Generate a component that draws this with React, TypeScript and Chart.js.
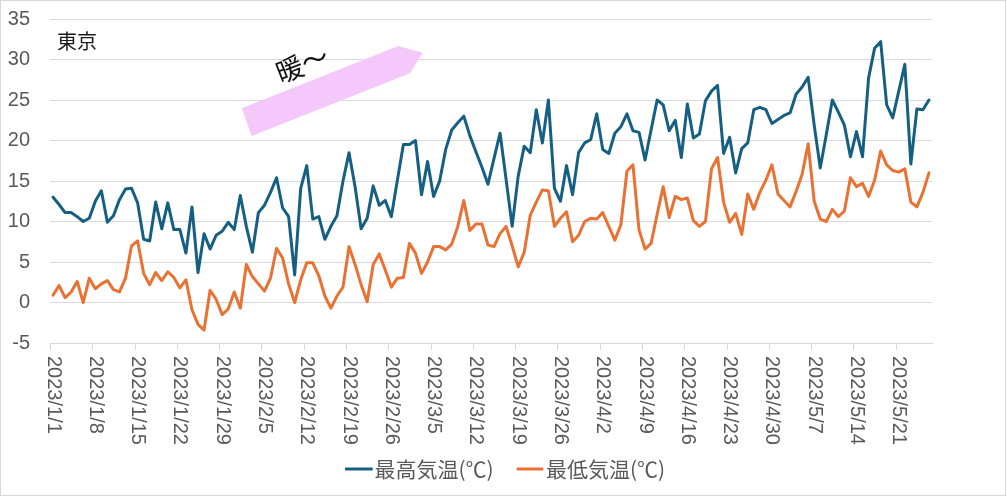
import React, { useEffect, useRef } from "react";
import { Chart, registerables } from "chart.js";

Chart.register(...registerables);

// Days per month shown (2023/1/1 - 2023/5/26)
const monthDays = [31, 28, 31, 30, 26];
const categories: string[] = [];
monthDays.forEach((n, m) => {
  for (let d = 1; d <= n; d++) categories.push(`2023/${m + 1}/${d}`);
});
const TICK_EVERY = 7;
const tickLabels = categories.filter((_, i) => i % TICK_EVERY === 0);

const yTicks = [-5, 0, 5, 10, 15, 20, 25, 30, 35];

const seriesNames = ["最高気温(℃)", "最低気温(℃)"];
const seriesColors = ["#156082", "#E97132"];

const maxTemp = [
  13.0, 12.1, 11.1, 11.1, 10.6, 10.0, 10.4,
  12.5, 13.8, 9.9, 10.7, 12.7, 14.0, 14.1,
  12.3, 7.8, 7.6, 12.4, 9.1, 12.3, 9.0,
  9.0, 6.1, 11.8, 3.7, 8.5, 6.6, 8.3,
  8.8, 9.9, 9.0, 13.2, 9.4, 6.2, 11.1,
  12.0, 13.6, 15.4, 11.7, 10.6, 3.4, 14.1,
  16.9, 10.3, 10.6, 7.8, 9.4, 10.7, 15.0,
  18.5, 14.3, 9.1, 10.4, 14.4, 12.0, 12.6,
  10.6, 15.1, 19.5, 19.5, 20.0, 13.3, 17.4,
  13.1, 15.0, 18.9, 21.3, 22.2, 23.0, 20.6,
  18.6, 16.7, 14.6, 17.8, 20.9, 15.2, 9.4,
  15.6, 19.3, 18.5, 23.8, 19.7, 25.0, 14.1,
  12.5, 16.9, 13.3, 18.5, 19.7, 20.1, 23.3,
  18.9, 18.4, 20.9, 21.7, 23.3, 21.2, 21.0,
  17.6, 21.3, 25.0, 24.4, 21.2, 22.5, 17.9,
  24.5, 20.3, 20.8, 24.9, 26.1, 26.8, 18.4,
  20.4, 16.0, 19.0, 19.7, 23.8, 24.1, 23.8,
  22.1, 22.6, 23.1, 23.4, 25.7, 26.6, 27.8,
  21.9, 16.6, 20.7, 25.0, 23.5, 21.9, 18.0,
  21.1, 18.0, 27.7, 31.4, 32.2, 24.4, 22.8,
  26.1, 29.4, 17.1, 23.9, 23.8, 25.0,
];

const minTemp = [
  0.9, 2.1, 0.6, 1.3, 2.6, 0.0, 3.0,
  1.7, 2.3, 2.7, 1.6, 1.3, 3.0, 7.0,
  7.6, 3.6, 2.2, 3.7, 2.7, 3.8, 3.1,
  1.8, 2.8, -0.9, -2.7, -3.4, 1.5, 0.4,
  -1.5, -0.8, 1.3, -0.7, 4.7, 3.2, 2.3,
  1.4, 3.0, 6.7, 5.5, 2.3, 0.0, 2.8,
  4.9, 4.9, 3.3, 0.8, -0.7, 0.8, 1.9,
  6.9, 4.7, 2.2, 0.1, 4.7, 6.0, 4.0,
  1.9, 3.0, 3.1, 7.3, 6.1, 3.6, 5.0,
  6.9, 6.9, 6.5, 7.2, 9.4, 12.6, 8.9,
  9.7, 9.7, 7.1, 6.9, 8.5, 9.4, 7.0,
  4.4, 6.2, 10.8, 12.4, 13.9, 13.8, 9.4,
  10.4, 11.2, 7.5, 8.3, 10.0, 10.4, 10.3,
  11.1, 9.4, 7.7, 9.6, 16.2, 17.0, 9.0,
  6.6, 7.3, 10.9, 14.3, 10.5, 13.1, 12.7,
  12.9, 10.1, 9.4, 10.0, 16.5, 17.9, 12.4,
  9.9, 11.0, 8.4, 13.4, 11.5, 13.6, 15.1,
  17.0, 13.4, 12.6, 11.8, 13.7, 15.8, 19.6,
  12.5, 10.3, 10.0, 11.5, 10.6, 11.3, 15.4,
  14.3, 14.7, 13.1, 15.1, 18.7, 17.0, 16.3,
  16.1, 16.5, 12.4, 11.8, 13.6, 16.0,
];

const cityLabel = "東京";
const noteText = "暖～";

const W = 1007;
const H = 497;
const GRID = "#d9d9d9";
const TEXT = "#595959";
const LATIN = "'Liberation Sans', Arial, sans-serif";
const CJK = "'Noto Sans CJK JP', 'Noto Sans', sans-serif";

const overlayPlugin = {
  id: "overlay",
  beforeDatasetsDraw(chart: any) {
    const ctx = chart.ctx as CanvasRenderingContext2D;
    ctx.save();
    ctx.fillStyle = "#F5C8FC";
    ctx.beginPath();
    ctx.moveTo(241.7, 108.3);
    ctx.lineTo(398.3, 46);
    ctx.lineTo(422.7, 52.7);
    ctx.lineTo(410, 73.3);
    ctx.lineTo(251.7, 136);
    ctx.closePath();
    ctx.fill();
    ctx.restore();
  },
  afterDraw(chart: any) {
    const ctx = chart.ctx as CanvasRenderingContext2D;
    const xs = chart.scales.x;
    const bottom = chart.chartArea.bottom;
    const half = (xs.getPixelForValue(1) - xs.getPixelForValue(0)) / 2;
    ctx.save();
    // outer frame
    ctx.strokeStyle = GRID;
    ctx.lineWidth = 1;
    ctx.strokeRect(0.5, 0.5, W - 2, H - 2);
    // x tick marks and rotated labels
    categories.forEach((lab, i) => {
      if (i % TICK_EVERY !== 0) return;
      const xc = xs.getPixelForValue(i);
      const xt = Math.round(xc - half) + 0.5;
      ctx.strokeStyle = GRID;
      ctx.beginPath();
      ctx.moveTo(xt, bottom);
      ctx.lineTo(xt, bottom + 7);
      ctx.stroke();
      ctx.save();
      ctx.translate(xc, bottom + 13);
      ctx.rotate(Math.PI / 2);
      ctx.textAlign = "left";
      ctx.textBaseline = "middle";
      ctx.fillStyle = TEXT;
      ctx.font = `20px ${LATIN}`;
      ctx.fillText(tickLabels[i / TICK_EVERY], 0, 0);
      ctx.restore();
    });
    // city label
    ctx.fillStyle = "#1a1a1a";
    ctx.font = `20px ${CJK}`;
    ctx.textAlign = "left";
    ctx.textBaseline = "middle";
    ctx.fillText(cityLabel, 57, 41);
    // annotation text
    ctx.save();
    ctx.translate(302, 64);
    ctx.rotate((-21.5 * Math.PI) / 180);
    ctx.textAlign = "center";
    ctx.textBaseline = "middle";
    ctx.fillStyle = "#111";
    ctx.font = `27px ${CJK}`;
    ctx.fillText(noteText, 0, 0);
    ctx.restore();
    // legend
    const legendY = 469;
    const items = [
      { x0: 345, x1: 372.7, tx: 374.5 },
      { x0: 516.7, x1: 543.3, tx: 546 },
    ];
    items.forEach((it, k) => {
      ctx.strokeStyle = seriesColors[k];
      ctx.lineWidth = 3;
      ctx.beginPath();
      ctx.moveTo(it.x0, legendY);
      ctx.lineTo(it.x1, legendY);
      ctx.stroke();
      ctx.fillStyle = TEXT;
      ctx.font = `21px ${CJK}`;
      ctx.textAlign = "left";
      ctx.textBaseline = "middle";
      ctx.fillText(seriesNames[k], it.tx, legendY);
    });
    ctx.restore();
  },
};

export default function App() {
  const ref = useRef<HTMLCanvasElement | null>(null);
  useEffect(() => {
    if (!ref.current) return;
    const chart = new Chart(ref.current, {
      type: "line",
      data: {
        labels: categories,
        datasets: [
          {
            label: seriesNames[0],
            data: maxTemp,
            borderColor: seriesColors[0],
            backgroundColor: seriesColors[0],
            borderWidth: 3,
            pointRadius: 0,
            tension: 0,
            borderJoinStyle: "round",
            borderCapStyle: "round",
          },
          {
            label: seriesNames[1],
            data: minTemp,
            borderColor: seriesColors[1],
            backgroundColor: seriesColors[1],
            borderWidth: 3,
            pointRadius: 0,
            tension: 0,
            borderJoinStyle: "round",
            borderCapStyle: "round",
          },
        ],
      },
      options: {
        responsive: false,
        animation: false,
        devicePixelRatio: 1,
        layout: { padding: { top: 19, right: 75, left: 0, bottom: 0 } },
        plugins: {
          legend: { display: false },
          tooltip: { enabled: false },
        },
        scales: {
          x: {
            type: "category",
            offset: true,
            grid: { display: false },
            border: { display: true, color: GRID, width: 1 },
            ticks: { display: false },
            afterFit: (s: any) => {
              s.height = 154;
              s.paddingLeft = 0;
              s.paddingRight = 0;
            },
          },
          y: {
            min: yTicks[0],
            max: yTicks[yTicks.length - 1],
            afterBuildTicks: (s: any) => {
              s.ticks = yTicks.map((v) => ({ value: v }));
            },
            grid: { color: GRID, lineWidth: 1, drawTicks: false },
            border: { display: false },
            ticks: {
              color: TEXT,
              padding: 20,
              font: { family: LATIN, size: 20 },
            },
            afterFit: (s: any) => {
              s.width = 50;
              s.paddingTop = 0;
              s.paddingBottom = 0;
            },
          },
        },
      },
      plugins: [overlayPlugin],
    } as any);
    return () => chart.destroy();
  }, []);
  return (
    <div style={{ position: "fixed", left: 0, top: 0, width: W, height: H, background: "#fff" }}>
      <canvas ref={ref} width={W} height={H} style={{ width: W, height: H, display: "block" }} />
    </div>
  );
}
